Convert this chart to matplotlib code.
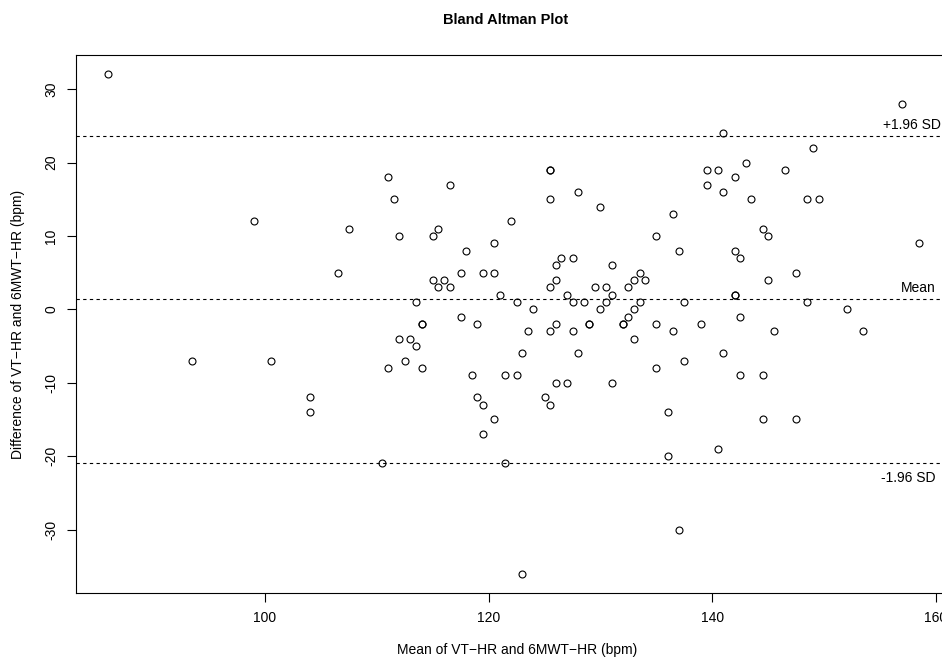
#!/usr/bin/env python
# Bland Altman plot: difference vs mean of VT-HR and 6MWT-HR
import numpy as np
import matplotlib
matplotlib.use('Agg')
import matplotlib.pyplot as plt

output_file = 'out.png'

# mean of the two heart rates (bpm)
hr_mean = [86, 99, 107.5, 106.5, 93.5, 100.5, 104, 104,
           111, 111.5, 112, 116.5, 115, 115.5, 113.5, 114, 114, 112, 113, 113.5,
           115, 116, 115.5, 116.5, 117.5, 118, 117.5, 119, 119.5, 120.5, 120.5,
           121, 122, 122.5, 124, 123.5,
           125.5, 125.5, 125.5, 128, 130, 125.5, 126, 126, 126.5, 127.5, 127,
           127.5, 128.5, 125.5, 126, 127.5,
           129, 129, 129.5, 130.5, 131, 131, 130.5, 130, 132, 132, 132.5, 133,
           133.5, 133, 132.5, 133, 133.5, 134, 135, 135,
           112.5, 111, 114, 118.5, 121.5, 122.5, 119, 119.5, 120.5, 119.5, 123,
           128, 126, 127, 131, 125, 125.5, 110.5, 121.5, 123, 135,
           157, 141, 149, 143, 139.5, 140.5, 146.5, 142, 139.5, 141, 143.5, 148.5,
           149.5, 136.5, 137, 144.5, 145, 142, 142.5, 158.5, 147.5, 145, 142, 142,
           137.5, 148.5, 152, 136.5, 139, 142.5, 145.5, 153.5, 137.5, 141, 142.5,
           144.5, 136, 144.5, 147.5, 140.5, 136, 137]

# difference of the two heart rates (bpm)
hr_diff = [32, 12, 11, 5, -7, -7, -12, -14,
           18, 15, 10, 17, 10, 11, 1, -2, -2, -4, -4, -5,
           4, 4, 3, 3, 5, 8, -1, -2, 5, 5, 9,
           2, 12, 1, 0, -3,
           19, 19, 15, 16, 14, 3, 4, 6, 7, 7, 2,
           1, 1, -3, -2, -3,
           -2, -2, 3, 3, 6, 2, 1, 0, -2, -2, -1, 0,
           1, -4, 3, 4, 5, 4, 10, -2,
           -7, -8, -8, -9, -9, -9, -12, -13, -15, -17, -6,
           -6, -10, -10, -10, -12, -13, -21, -21, -36, -8,
           28, 24, 22, 20, 19, 19, 19, 18, 17, 16, 15, 15,
           15, 13, 8, 11, 10, 8, 7, 9, 5, 4, 2, 2,
           1, 1, 0, -3, -2, -1, -3, -3, -7, -6, -9,
           -9, -14, -15, -15, -19, -20, -30]

x = np.array(hr_mean)
d = np.array(hr_diff)
md = d.mean()
sd = d.std(ddof=1)

plt.rcParams['font.family'] = ['Liberation Sans', 'DejaVu Sans']
plt.rcParams['axes.unicode_minus'] = False

fig = plt.figure(figsize=(9.42, 6.59), dpi=100)
W, H = 942.0, 659.0
# plot box is cropped on the right, like the original
ax = fig.add_axes([75.7 / W, (H - 593.3) / H, (950.5 - 75.7) / W, (593.3 - 54.7) / H])

ax.plot(x, d, 'o', mfc='none', mec='black', ms=5, mew=0.8, linestyle='none')

for val in (md + 1.96 * sd, md, md - 1.96 * sd):
  ax.axhline(val, color='black', lw=0.8, linestyle=(0, (3, 3)))

fs = 10
ax.text(160.4, md + 1.96 * sd + 1.5, '+1.96 SD', ha='right', va='center', fontsize=fs)
ax.text(160.0, md + 1.5, 'Mean', ha='right', va='center', fontsize=fs)
ax.text(160.0, md - 1.96 * sd - 2.0, '-1.96 SD', ha='right', va='center', fontsize=fs)

ax.set_xlim(83.07, 161.3)
ax.set_ylim(-38.69, 34.69)
ax.set_xticks([100, 120, 140, 160])
ax.set_yticks([-30, -20, -10, 0, 10, 20, 30])
ax.tick_params(direction='out', length=6.5, width=0.8, labelsize=fs, pad=6)
plt.setp(ax.get_yticklabels(), rotation=90, va='center')
for axis in ['top', 'bottom', 'left', 'right']:
  ax.spines[axis].set_linewidth(0.8)

ax.set_xlabel('Mean of VT\u2212HR and 6MWT\u2212HR (bpm)', fontsize=fs)
ax.set_ylabel('Difference of VT\u2212HR and 6MWT\u2212HR (bpm)', fontsize=fs)
ax.xaxis.set_label_coords(0.505, (593.3 - 650) / 538.6)
ax.xaxis.label.set_va('center')
ax.yaxis.set_label_coords((18 - 75.7) / 874.8, 0.5)
ax.yaxis.label.set_va('center')

fig.text(506 / W, 1 - 20 / H, 'Bland Altman Plot', ha='center', va='center',
         fontsize=10.5, fontweight='bold')

plt.savefig(output_file, dpi=100)
print('Saved to', output_file, md, sd)
